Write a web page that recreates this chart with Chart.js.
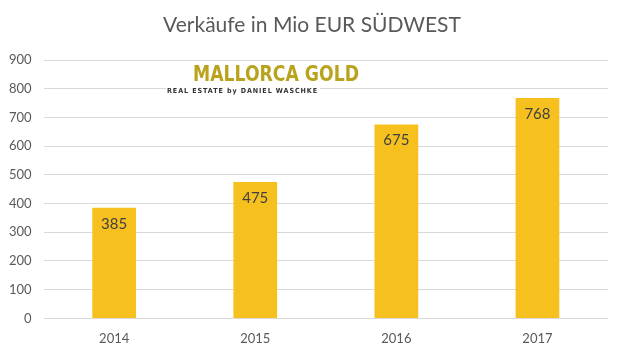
<!DOCTYPE html>
<html><head><meta charset="utf-8">
<script src="https://cdn.jsdelivr.net/npm/chart.js@4.4.0/dist/chart.umd.min.js"></script>
<style>html,body{margin:0;padding:0;background:#fff}#wrap{width:621px;height:357px}</style>
</head><body><div id="wrap"><canvas id="c" width="621" height="357"></canvas></div>
<script>
const categories = ["2014", "2015", "2016", "2017"];
const sales = [385, 475, 675, 768];
const yTicks = [0, 100, 200, 300, 400, 500, 600, 700, 800, 900];
const titleText = "Verkäufe in Mio EUR SÜDWEST";
const logoMain = "MALLORCA GOLD";
const logoSub = "REAL ESTATE by DANIEL WASCHKE";

const FONT = "Lato, 'Open Sans', sans-serif";

const valueLabels = {
  id: 'valueLabels',
  afterDatasetsDraw(chart) {
    const ctx = chart.ctx;
    const meta = chart.getDatasetMeta(0);
    ctx.save();
    ctx.font = "15px " + FONT;
    ctx.fillStyle = "#404040";
    ctx.textAlign = "center";
    ctx.textBaseline = "middle";
    meta.data.forEach((bar, i) => {
      ctx.fillText(String(sales[i]), bar.x, bar.y + 16);
    });
    ctx.restore();
  }
};

const titleAndLogo = {
  id: 'titleAndLogo',
  afterDraw(chart) {
    const ctx = chart.ctx;
    ctx.save();
    ctx.fillStyle = "#595959";
    ctx.font = "21px " + FONT;
    ctx.textAlign = "center";
    ctx.textBaseline = "middle";
    ctx.fillText(titleText, 312, 25);

    ctx.fillStyle = "#ffffff";
    ctx.fillRect(190, 63, 172, 20);
    ctx.fillRect(166, 86, 154, 9);
    ctx.fillStyle = "#b9a31c";
    ctx.font = "bold 22px 'DejaVu Sans', sans-serif";
    ctx.textAlign = "left";
    ctx.textBaseline = "alphabetic";
    ctx.fillText(logoMain, 193, 81, 166);
    ctx.fillStyle = "#333333";
    ctx.font = "bold 7px 'DejaVu Sans', sans-serif";
    try { ctx.letterSpacing = "1px"; } catch (e) {}
    ctx.fillText(logoSub, 167, 93, 151);
    ctx.restore();
  }
};

new Chart(document.getElementById('c'), {
  type: 'bar',
  data: {
    labels: categories,
    datasets: [{
      data: sales,
      backgroundColor: "#F6C11E",
      borderWidth: 0,
      barPercentage: 0.62,
      categoryPercentage: 0.5
    }]
  },
  options: {
    responsive: false,
    animation: false,
    layout: { padding: { left: -3, right: 13, top: 60, bottom: 5 } },
    plugins: {
      legend: { display: false },
      tooltip: { enabled: false },
      title: { display: false }
    },
    scales: {
      x: {
        grid: { display: false },
        border: { display: false },
        ticks: { color: "#595959", font: { family: FONT, size: 13 }, padding: 5 }
      },
      y: {
        min: 0, max: 900,
        afterBuildTicks(axis) { axis.ticks = yTicks.map(v => ({ value: v })); },
        grid: { color: "#d9d9d9", lineWidth: 1, drawTicks: false },
        border: { display: false },
        ticks: { color: "#595959", font: { family: FONT, size: 13 }, padding: 12 }
      }
    }
  },
  plugins: [valueLabels, titleAndLogo]
});
</script>
</body></html>
